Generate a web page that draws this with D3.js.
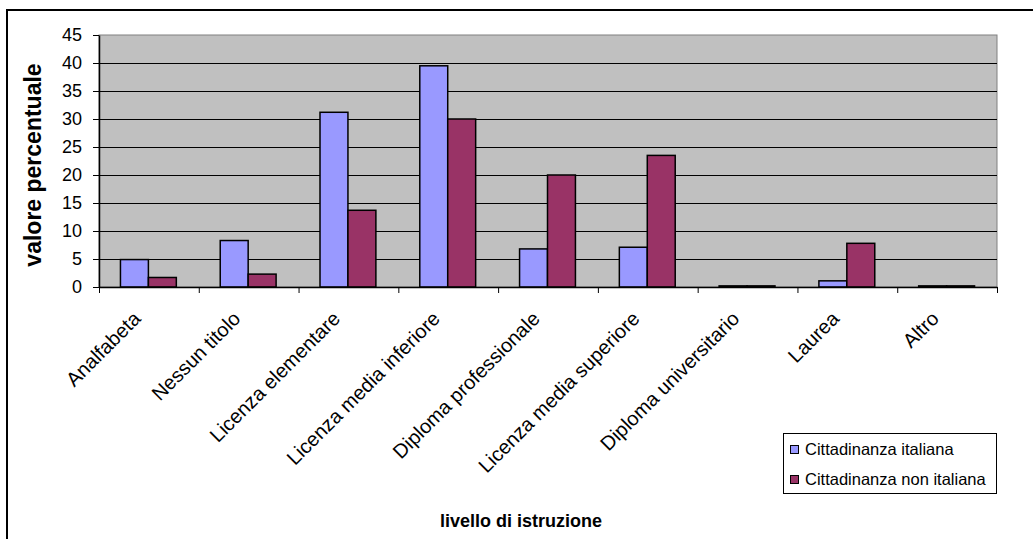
<!DOCTYPE html>
<html>
<head>
<meta charset="utf-8">
<script src="https://cdn.jsdelivr.net/npm/d3@7"></script>
<style>
  html, body { margin: 0; padding: 0; background: #fff; }
  svg { display: block; font-family: "Liberation Sans", Arial, sans-serif; }
</style>
</head>
<body>
<svg id="chart" width="1033" height="539"></svg>
<script>
// Livello di istruzione per cittadinanza (valori percentuali)
const categories = [
  "Analfabeta", "Nessun titolo", "Licenza elementare", "Licenza media inferiore",
  "Diploma professionale", "Licenza media superiore", "Diploma universitario",
  "Laurea", "Altro"
];
const seriesNames = ["Cittadinanza italiana", "Cittadinanza non italiana"];
const italiana    = [4.9, 8.3, 31.2, 39.5, 6.8, 7.1, 0.2, 1.1, 0.2];
const nonItaliana = [1.7, 2.3, 13.7, 30.0, 20.0, 23.5, 0.2, 7.8, 0.2];
const yTicks = [0, 5, 10, 15, 20, 25, 30, 35, 40, 45];
const colors = ["#9999FF", "#993366"];

const svg = d3.select("#chart");
const plot = { left: 99, right: 997, top: 35, bottom: 287 };

// Frame of the chart area
svg.append("path")
  .attr("d", `M7,539 V10 H1033`)
  .attr("fill", "none").attr("stroke", "#000").attr("stroke-width", 2);

const x0 = d3.scaleBand().domain(categories).range([plot.left, plot.right]);
const bw = x0.bandwidth();
const x1 = d3.scaleBand().domain(seriesNames).range([bw * 0.215, bw * 0.775]);
const y = d3.scaleLinear().domain([0, 45]).range([plot.bottom, plot.top]);

// Plot background
svg.append("rect")
  .attr("x", plot.left).attr("y", plot.top)
  .attr("width", plot.right - plot.left).attr("height", plot.bottom - plot.top)
  .attr("fill", "#C0C0C0").attr("stroke", "#808080").attr("stroke-width", 1);

// Horizontal gridlines
svg.append("g").selectAll("line")
  .data(yTicks.filter(t => t > 0 && t < 45))
  .join("line")
  .attr("x1", plot.left).attr("x2", plot.right)
  .attr("y1", d => Math.round(y(d)) + 0.5).attr("y2", d => Math.round(y(d)) + 0.5)
  .attr("stroke", "#000").attr("stroke-width", 1);

// Bars
const rows = categories.map((c, i) => ({ cat: c, vals: [italiana[i], nonItaliana[i]] }));
svg.append("g").selectAll("g")
  .data(rows)
  .join("g")
  .attr("transform", d => `translate(${x0(d.cat)},0)`)
  .selectAll("rect")
  .data(d => d.vals.map((v, k) => ({ key: seriesNames[k], v, k })))
  .join("rect")
  .attr("x", d => x1(d.key))
  .attr("width", x1.bandwidth())
  .attr("y", d => y(d.v))
  .attr("height", d => y(0) - y(d.v))
  .attr("fill", d => colors[d.k])
  .attr("stroke", "#000").attr("stroke-width", 1.5);

// Y axis
const yAxis = svg.append("g")
  .attr("transform", `translate(${plot.left},0)`)
  .call(d3.axisLeft(y).tickValues(yTicks).tickSize(6).tickSizeOuter(0).tickPadding(11));
yAxis.select(".domain").attr("stroke", "#000").attr("stroke-width", 1.5);
yAxis.selectAll(".tick line").attr("stroke", "#000");
yAxis.selectAll(".tick text")
  .attr("font-family", "Liberation Sans, Arial, sans-serif")
  .attr("font-size", 18).attr("fill", "#000");

// X axis: tick marks at category boundaries
const xb = d3.scaleLinear().domain([0, categories.length]).range([plot.left, plot.right]);
const xAxis = svg.append("g")
  .attr("transform", `translate(0,${plot.bottom})`)
  .call(d3.axisBottom(xb).tickValues(d3.range(categories.length + 1))
    .tickSize(6).tickSizeOuter(0).tickFormat(""));
xAxis.select(".domain").attr("stroke", "#000").attr("stroke-width", 1.5);
xAxis.selectAll(".tick line").attr("stroke", "#000");

// Rotated category labels
svg.append("g").selectAll("text")
  .data(categories)
  .join("text")
  .attr("transform", d => `translate(${x0(d) + bw / 2 - 7},${plot.bottom + 33}) rotate(-45)`)
  .attr("text-anchor", "end")
  .attr("font-size", 20)
  .attr("fill", "#000")
  .text(d => d);

// Axis titles
svg.append("text")
  .attr("transform", `translate(41,${(plot.top + plot.bottom) / 2 + 4}) rotate(-90)`)
  .attr("text-anchor", "middle")
  .attr("font-size", 23).attr("font-weight", "bold")
  .text("valore percentuale");

svg.append("text")
  .attr("x", 521).attr("y", 527)
  .attr("text-anchor", "middle")
  .attr("font-size", 18).attr("font-weight", "bold")
  .text("livello di istruzione");

// Legend
const legend = svg.append("g");
legend.append("rect")
  .attr("x", 783.5).attr("y", 433.5).attr("width", 213).attr("height", 60)
  .attr("fill", "#fff").attr("stroke", "#000").attr("stroke-width", 1);
const items = legend.selectAll("g.item")
  .data(seriesNames)
  .join("g").attr("class", "item")
  .attr("transform", (d, i) => `translate(0,${i * 30})`);
items.append("rect")
  .attr("x", 790.5).attr("y", 445.5).attr("width", 8).attr("height", 8)
  .attr("fill", (d, i) => colors[i]).attr("stroke", "#000").attr("stroke-width", 1);
items.append("text")
  .attr("x", 805).attr("y", 455)
  .attr("font-size", 16.5).attr("fill", "#000")
  .text(d => d);
</script>
</body>
</html>
